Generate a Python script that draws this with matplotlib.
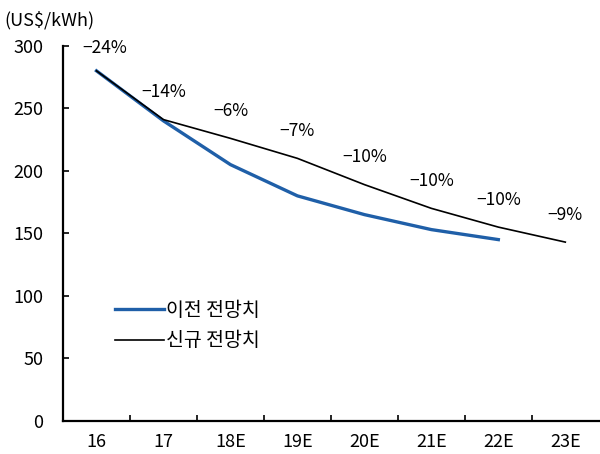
import matplotlib.pyplot as plt

plt.rcParams["font.family"] = ["Noto Sans CJK KR", "DejaVu Sans"]

years = ["16", "17", "18E", "19E", "20E", "21E", "22E", "23E"]
old_forecast = [280, 240, 205, 180, 165, 153, 145]
new_forecast = [280, 241, 226, 210, 189, 170, 155, 143]
yoy_labels = ["\u221224%", "\u221214%", "\u22126%", "\u22127%", "\u221210%", "\u221210%", "\u221210%", "\u22129%"]


def main() -> None:
    fig = plt.figure(figsize=(6.0, 4.54), dpi=100)
    ax = fig.add_axes([0.105, 0.073, 0.893, 0.826])

    x_old = range(len(old_forecast))
    x_new = range(len(new_forecast))
    ax.plot(x_old, old_forecast, color="#1f5fa8", lw=2.4, label="이전 전망치", zorder=2)
    ax.plot(x_new, new_forecast, color="black", lw=1.2, label="신규 전망치", zorder=3)

    for i, (val, txt) in enumerate(zip(new_forecast, yoy_labels)):
        dx = 0.12 if i == 0 else 0.0
        ax.text(i + dx, min(val + 22, 298), txt, ha="center", va="center", fontsize=12.5)

    ax.set_xlim(-0.5, len(years) - 0.5)
    ax.set_ylim(0, 300)
    ax.set_yticks(range(0, 301, 50))
    ax.set_xticks(range(len(years)))
    ax.set_xticklabels(years)
    ax.set_xticks([i + 0.5 for i in range(len(years) - 1)], minor=True)
    ax.tick_params(axis="x", which="major", length=0, pad=9, labelsize=13)
    ax.tick_params(axis="x", which="minor", direction="in", length=4, width=1.2)
    ax.tick_params(axis="y", direction="in", length=4, width=1.2, pad=14, labelsize=13)

    for side in ("top", "right"):
        ax.spines[side].set_visible(False)
    for side in ("left", "bottom"):
        ax.spines[side].set_linewidth(1.6)

    ax.legend(loc="upper left", bbox_to_anchor=(0.065, 0.37), frameon=False,
              fontsize=14, handlelength=2.5, handletextpad=0.1, labelspacing=0.5)

    fig.text(0.008, 0.955, "(US$/kWh)", fontsize=13, ha="left", va="center")

    fig.savefig("out.png", dpi=100)


if __name__ == "__main__":
    main()
